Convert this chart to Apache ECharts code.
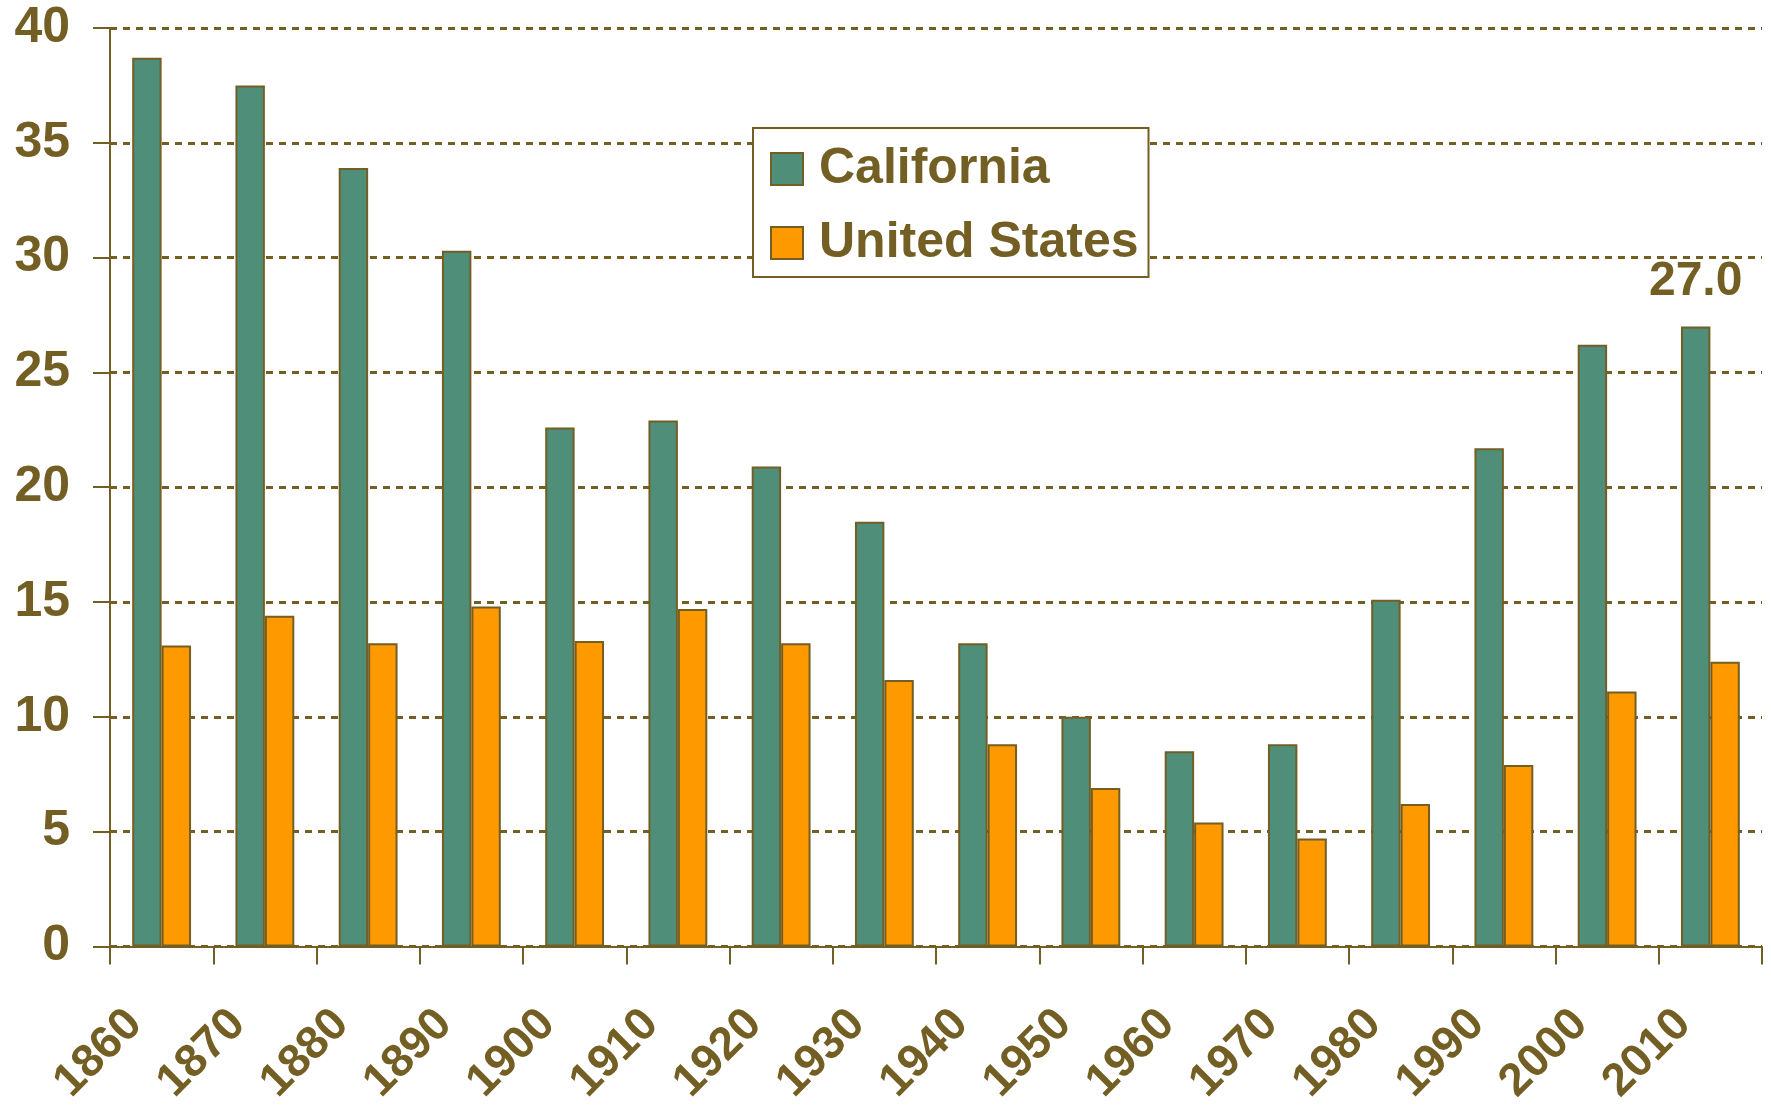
<!DOCTYPE html>
<html>
<head>
<meta charset="utf-8">
<script src="https://cdn.jsdelivr.net/npm/echarts@6/dist/echarts.min.js"></script>
<style>
html,body{margin:0;padding:0;background:#fff;}
#chart{width:1771px;height:1108px;}
</style>
</head>
<body>
<div id="chart"></div>
<script>
const categories = ['1860','1870','1880','1890','1900','1910','1920','1930','1940','1950','1960','1970','1980','1990','2000','2010'];
const california = [38.7,37.5,33.9,30.3,22.6,22.9,20.9,18.5,13.2,10.0,8.5,8.8,15.1,21.7,26.2,27.0];
const unitedStates = [13.1,14.4,13.2,14.8,13.3,14.7,13.2,11.6,8.8,6.9,5.4,4.7,6.2,7.9,11.1,12.4];
const yTicks = { min: 0, max: 40, interval: 5 };

const olive = '#735E24';
const font = "'Liberation Sans', Arial, sans-serif";

const caData = california.map((v, i) => i === california.length - 1
  ? { value: v, label: { show: true, position: 'top', distance: 21, formatter: (p) => p.value.toFixed(1),
      color: olive, fontSize: 48, fontWeight: 'bold', fontFamily: font } }
  : v);

const chart = echarts.init(document.getElementById('chart'), null, { renderer: 'canvas' });
chart.setOption({
  animation: false,
  backgroundColor: '#ffffff',
  grid: { left: 110, right: 9, top: 28, bottom: 161, containLabel: false },
  legend: {
    orient: 'vertical',
    left: 753, top: 128,
    padding: [7, 10, 0, 17],
    itemGap: 6,
    itemWidth: 32, itemHeight: 32,
    icon: 'rect',
    borderColor: olive, borderWidth: 2,
    backgroundColor: '#fff',
    textStyle: { color: olive, fontSize: 50, fontWeight: 'bold', fontFamily: font, lineHeight: 50, padding: [18, 0, 0, 11] },
    data: ['California', 'United States']
  },
  xAxis: {
    type: 'category',
    data: categories,
    boundaryGap: true,
    axisLine: { lineStyle: { color: olive, width: 2 } },
    axisTick: { show: true, length: 18, lineStyle: { color: olive, width: 2 } },
    axisLabel: { rotate: 45, margin: 44, padding: [0, 38, 0, 0], color: olive, fontSize: 46, fontWeight: 'bold', fontFamily: font, interval: 0 }
  },
  yAxis: {
    type: 'value',
    min: yTicks.min, max: yTicks.max, interval: yTicks.interval,
    axisLine: { show: true, lineStyle: { color: olive, width: 2 } },
    axisTick: { show: true, length: 17, lineStyle: { color: olive, width: 2 } },
    axisLabel: { margin: 40, color: olive, fontSize: 50, fontWeight: 'bold', fontFamily: font },
    splitLine: { show: true, lineStyle: { color: olive, width: 3, type: [7, 6] } }
  },
  series: [
    {
      name: 'California', type: 'bar', data: caData,
      barWidth: '28.5%', barGap: '0%',
      itemStyle: { color: '#4F8F7A', borderColor: olive, borderWidth: 2 }
    },
    {
      name: 'United States', type: 'bar', data: unitedStates,
      barWidth: '28.5%', barGap: '0%',
      itemStyle: { color: '#FF9900', borderColor: olive, borderWidth: 2 }
    }
  ]
});
</script>
</body>
</html>
